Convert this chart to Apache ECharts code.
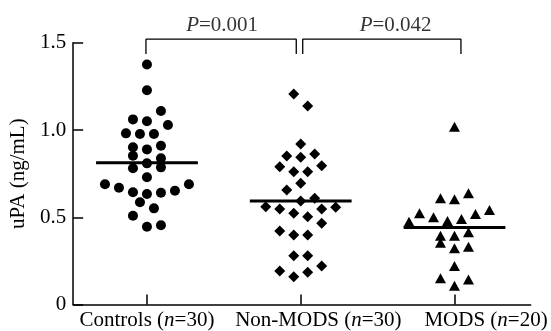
<!DOCTYPE html>
<html>
<head>
<meta charset="utf-8">
<script src="https://cdn.jsdelivr.net/npm/echarts@6/dist/echarts.min.js"></script>
<style>
  html, body { margin: 0; padding: 0; background: #fff; }
  #chart { width: 551px; height: 331px; }
</style>
</head>
<body>
<div id="chart"></div>
<script>
// ---- data ----
const groupNames = ['Controls', 'Non-MODS', 'MODS'];
const groupSizes = [30, 30, 20];

// uPA (ng/mL) per subject, with the swarm slot each dot sits in
const controlsValues = [1.376, 1.228, 1.109, 1.061, 1.050, 1.029, 0.981, 0.977, 0.977, 0.910,
                        0.901, 0.889, 0.853, 0.838, 0.809, 0.786, 0.781, 0.729, 0.689, 0.689,
                        0.669, 0.652, 0.643, 0.641, 0.633, 0.586, 0.551, 0.509, 0.454, 0.446];
const controlsSlots  = [0, 0, 2, -2, 0, 3, -3, -1, 1, 2,
                        -2, 0, -2, 2, 0, 2, -2, 0, -6, 6,
                        -4, 4, -2, 2, 0, -1, 1, -2, 2, 0];

const nonModsValues = [1.206, 1.138, 0.920, 0.862, 0.851, 0.844, 0.795, 0.790, 0.761, 0.761,
                       0.695, 0.656, 0.609, 0.593, 0.560, 0.557, 0.547, 0.547, 0.523, 0.503,
                       0.465, 0.421, 0.398, 0.398, 0.280, 0.280, 0.221, 0.192, 0.185, 0.159];
const nonModsSlots  = [-1, 1, 0, 2, -2, 0, 3, -3, -1, 1,
                       0, -2, 2, 0, -5, 5, -3, 3, -1, 1,
                       3, -3, -1, 1, -1, 1, 3, -3, 1, -1];

const modsValues = [1.019, 0.637, 0.609, 0.603, 0.542, 0.523, 0.519, 0.500, 0.490, 0.479,
                    0.474, 0.414, 0.394, 0.394, 0.354, 0.331, 0.322, 0.221, 0.150, 0.144, 0.108];
const modsSlots  = [0, 2, -2, 0, 5, -5, 3, -3, 1, -1,
                    -6.5, 2, -2, 0, -2, 2, 0, 0, -2, 2, 0];

const groupMeans = [0.813, 0.593, 0.442];

// pairwise comparisons (group indices) and their P values
const comparisons = [[0, 1], [1, 2]];
const pValues = ['0.001', '0.042'];

const yTickValues = [0, 0.5, 1.0, 1.5];

// ---- layout ----
const FONT = '"Liberation Serif", "Times New Roman", serif';
const FS = 21;
const SLOT = 0.0455;          // horizontal spacing between swarm slots
const MEAN_HALF = 0.331;      // half length of mean bar
const centers = [1, 2, 3];
const labelCenters = [1, 2.115, 3.205];
const bracketTop = 1.521, bracketLeg = 1.436, pLabelY = 1.597;
const bracketEnds = [[-0.0065, -0.029], [0.013, 0.042]];
const pLabelX = [1.489, 2.617];

function swarm(values, slots, c) {
  return values.map((v, i) => [c + slots[i] * SLOT, v]);
}

const series = [];
const groupData = [
  { values: controlsValues, slots: controlsSlots, symbol: 'circle', size: 10 },
  { values: nonModsValues, slots: nonModsSlots, symbol: 'diamond', size: 11 },
  { values: modsValues, slots: modsSlots, symbol: 'triangle', size: [11, 10] }
];
groupData.forEach((g, gi) => {
  series.push({
    type: 'scatter',
    name: groupNames[gi],
    symbol: g.symbol,
    symbolSize: g.size,
    itemStyle: { color: '#000', opacity: 1 },
    clip: false,
    silent: true,
    data: swarm(g.values, g.slots, centers[gi])
  });
});

groupMeans.forEach((m, gi) => {
  series.push({
    type: 'line',
    symbol: 'none',
    silent: true,
    z: 3,
    lineStyle: { color: '#000', width: 3 },
    data: [[centers[gi] - MEAN_HALF, m], [centers[gi] + MEAN_HALF, m]]
  });
});

comparisons.forEach((pair, k) => {
  const x1 = centers[pair[0]] + bracketEnds[k][0];
  const x2 = centers[pair[1]] + bracketEnds[k][1];
  series.push({
    type: 'line',
    symbol: 'none',
    silent: true,
    clip: false,
    lineStyle: { color: '#000', width: 1.3 },
    data: [[x1, bracketLeg], [x1, bracketTop], [x2, bracketTop], [x2, bracketLeg]]
  });
});

series.push({
  type: 'scatter',
  symbolSize: 0,
  silent: true,
  clip: false,
  data: pValues.map((p, k) => [pLabelX[k], pLabelY]),
  label: {
    show: true,
    position: 'inside',
    color: '#000',
    fontFamily: FONT,
    fontSize: FS,
    formatter: (d) => '{i|P}=' + pValues[d.dataIndex],
    rich: { i: { fontStyle: 'italic', fontFamily: FONT, fontSize: FS, color: '#000' } }
  }
});

const chart = echarts.init(document.getElementById('chart'), null, { renderer: 'canvas' });
chart.setOption({
  animation: false,
  backgroundColor: '#fff',
  grid: { left: 72, right: 20.4, top: 42.8, bottom: 26.5, containLabel: false },
  xAxis: {
    type: 'value',
    min: 0.52,
    max: 3.495,
    splitLine: { show: false },
    axisLine: { show: true, onZero: false, lineStyle: { color: '#000', width: 1.5 } },
    axisTick: {
      show: true, inside: true, length: 10, customValues: centers,
      lineStyle: { color: '#000', width: 1.5 }
    },
    axisLabel: {
      customValues: labelCenters,
      margin: 5,
      color: '#000',
      fontFamily: FONT,
      fontSize: FS,
      formatter: (v) => {
        let idx = 0, best = Infinity;
        labelCenters.forEach((c, i) => { if (Math.abs(c - v) < best) { best = Math.abs(c - v); idx = i; } });
        return groupNames[idx] + ' ({i|n}=' + groupSizes[idx] + ')';
      },
      rich: { i: { fontStyle: 'italic', fontFamily: FONT, fontSize: FS, color: '#000' } }
    }
  },
  yAxis: {
    type: 'value',
    min: 0,
    max: 1.5,
    interval: 0.5,
    name: 'uPA (ng/mL)',
    nameLocation: 'middle',
    nameGap: 37,
    nameTextStyle: { color: '#000', fontFamily: FONT, fontSize: FS },
    splitLine: { show: false },
    axisLine: { show: true, lineStyle: { color: '#000', width: 1.5 } },
    axisTick: { show: true, inside: true, length: 10, lineStyle: { color: '#000', width: 1.5 } },
    axisLabel: {
      margin: 7,
      color: '#000',
      fontFamily: FONT,
      fontSize: FS,
      formatter: (v) => {
        const t = yTickValues.find((y) => Math.abs(y - v) < 1e-9);
        return t === 0 ? '0' : t.toFixed(1);
      }
    }
  },
  series: series
});
</script>
</body>
</html>
